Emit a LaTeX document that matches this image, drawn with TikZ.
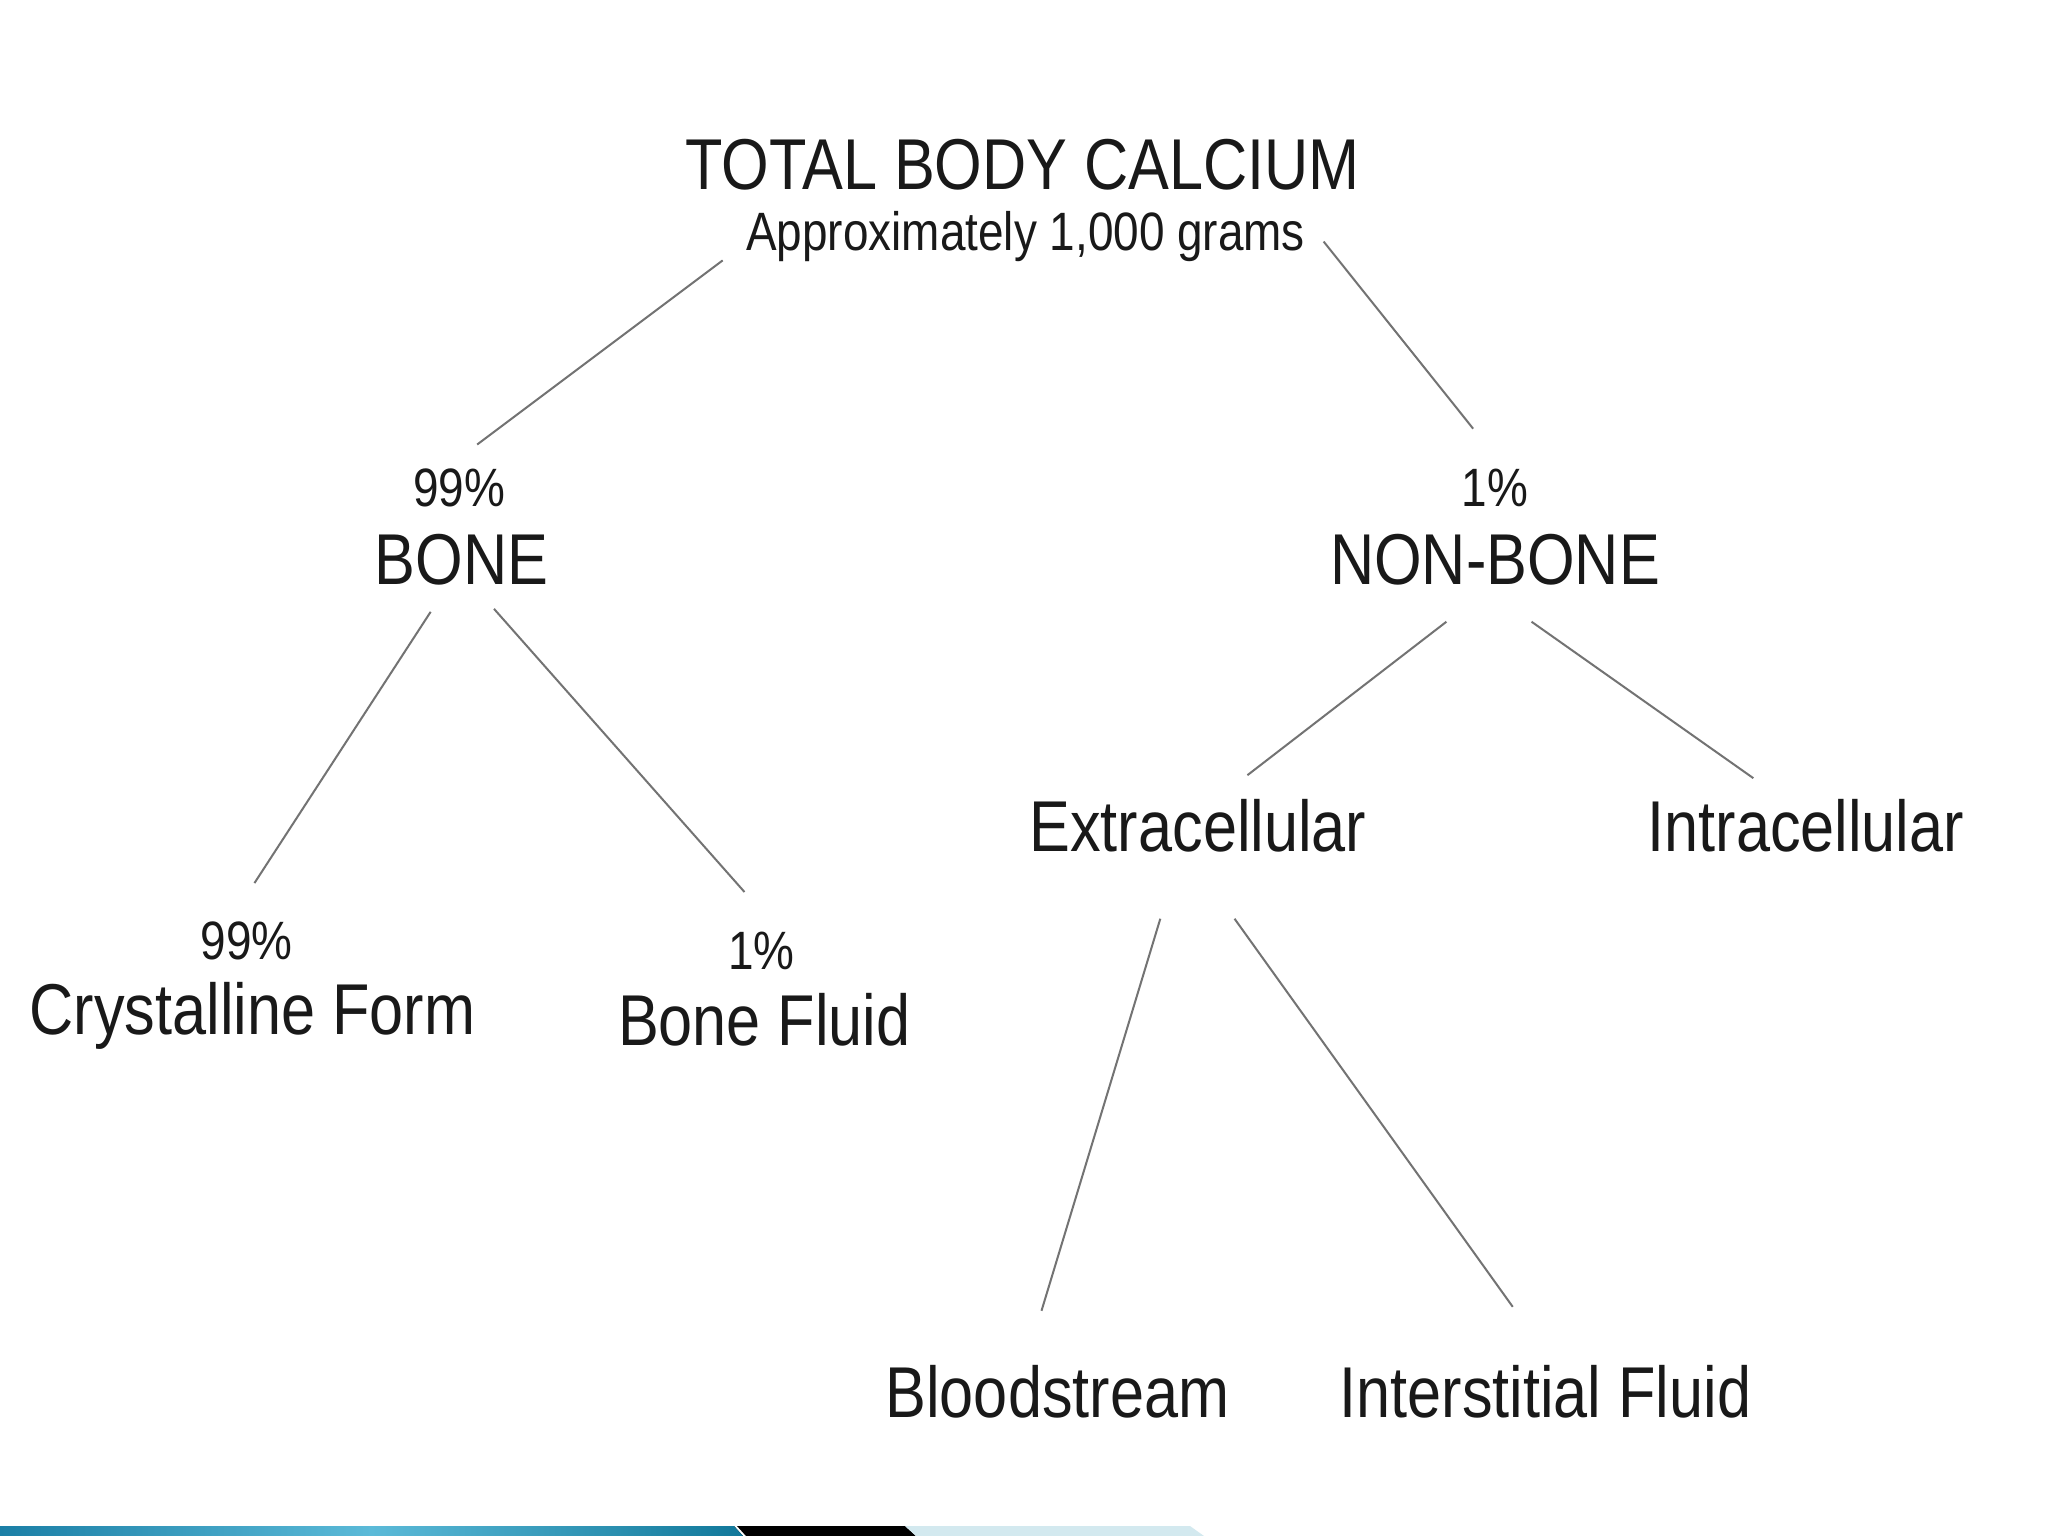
\documentclass[tikz,border=0pt]{standalone}
\usepackage{fontspec}
\setmainfont{Liberation Sans}[FakeStretch=0.85]
\begin{document}
\begin{tikzpicture}[x=1pt,y=-1pt,
  big/.style={anchor=base,inner sep=0pt,text=black!90,font=\fontsize{72}{80}\selectfont},
  small/.style={anchor=base,inner sep=0pt,text=black!90,font=\fontsize{54}{60}\selectfont},
  link/.style={draw=black!55,line width=2pt}]
\useasboundingbox[fill=white] (0,0) rectangle (2048,1536);
\begin{scope}[scale=0.99]
% texts
\node[big]   (total) at (1033,191) {TOTAL BODY CALCIUM};
\node[small] (approx) at (1036,253) {Approximately 1,000 grams};
\node[small] (p99a) at (464,512) {99\%};
\node[big]   (bone) at (466,590) {BONE};
\node[small] (p1a) at (1510,512) {1\%};
\node[big]   (nonbone) at (1510,590) {NON-BONE};
\node[big]   (extra) at (1210,860) {Extracellular};
\node[big]   (intra) at (1824,860) {Intracellular};
\node[small] (p99b) at (249,969) {99\%};
\node[big]   (cryst) at (255,1045) {Crystalline Form};
\node[small] (p1b) at (769,979) {1\%};
\node[big]   (fluid) at (772,1056) {Bone Fluid};
\node[big]   (blood) at (1068,1432) {Bloodstream};
\node[big]   (inter) at (1561,1432) {Interstitial Fluid};
% connector end points
\coordinate (tL) at (730,263);  \coordinate (bT) at (482,449);
\coordinate (tR) at (1337,244); \coordinate (nT) at (1488,433);
\coordinate (bL) at (435,618);  \coordinate (cT) at (257,892);
\coordinate (bR) at (499,615);  \coordinate (fT) at (752,901);
\coordinate (nL) at (1461,628); \coordinate (eT) at (1260,783);
\coordinate (nR) at (1547,628); \coordinate (iT) at (1771,786);
\coordinate (eL) at (1172,928); \coordinate (blT) at (1052,1324);
\coordinate (eR) at (1247,928); \coordinate (inT) at (1528,1320);
\draw[link] (tL) -- (bT);
\draw[link] (tR) -- (nT);
\draw[link] (bL) -- (cT);
\draw[link] (bR) -- (fT);
\draw[link] (nL) -- (eT);
\draw[link] (nR) -- (iT);
\draw[link] (eL) -- (blT);
\draw[link] (eR) -- (inT);
\end{scope}
% bottom band
\definecolor{bandA}{HTML}{1B7FA6}
\definecolor{bandB}{HTML}{5BBAD8}
\definecolor{bandC}{HTML}{11789A}
\definecolor{bandL}{HTML}{D3E9EF}
\fill[left color=bandA,right color=bandC,middle color=bandB] (0,1526) -- (734,1526) -- (743,1536) -- (0,1536) -- cycle;
\fill[black] (737,1526) -- (905,1526) -- (916,1536) -- (746,1536) -- cycle;
\fill[bandL] (905,1526) -- (1190,1526) -- (1204,1536) -- (916,1536) -- cycle;
\end{tikzpicture}
\end{document}
